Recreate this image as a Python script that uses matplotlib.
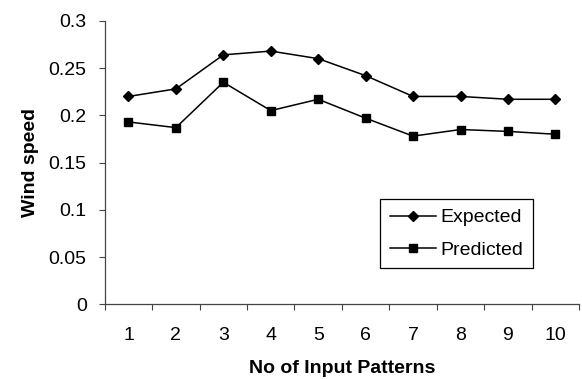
import numpy as np
import matplotlib.pyplot as plt

plt.rcParams['font.family'] = ['Liberation Sans', 'DejaVu Sans']

patterns = [1, 2, 3, 4, 5, 6, 7, 8, 9, 10]
expected = [0.220, 0.228, 0.264, 0.268, 0.260, 0.242, 0.220, 0.220, 0.217, 0.217]
predicted = [0.193, 0.187, 0.235, 0.205, 0.217, 0.197, 0.178, 0.185, 0.183, 0.180]
y_ticks = [0, 0.05, 0.1, 0.15, 0.2, 0.25, 0.3]
y_tick_labels = ['0', '0.05', '0.1', '0.15', '0.2', '0.25', '0.3']

fs = 14

fig = plt.figure(figsize=(5.82, 3.79), dpi=100)
ax = fig.add_axes([0.18, 0.197, 0.815, 0.748])

ax.plot(patterns, expected, 'k-', marker='D', markersize=5.5, lw=1.1, label='Expected')
ax.plot(patterns, predicted, 'k-', marker='s', markersize=5.5, lw=1.1, label='Predicted')

ax.set_xlim(0.5, len(patterns) + 0.5)
ax.set_ylim(0, 0.3)
ax.set_yticks(y_ticks)
ax.set_yticklabels(y_tick_labels)

# category labels sit between the tick marks
ax.set_xticks(np.arange(0.5, len(patterns) + 1, 1))
ax.set_xticklabels([])
ax.set_xticks(patterns, minor=True)
ax.set_xticklabels([str(p) for p in patterns], minor=True)
ax.tick_params(axis='x', which='minor', length=0, pad=16, labelsize=fs)
ax.tick_params(axis='x', which='major', direction='out', length=4, width=0.8, color='#444444')
ax.tick_params(axis='y', direction='out', length=4, width=0.8, color='#444444', labelsize=fs, pad=9)

for side in ['top', 'right']:
    ax.spines[side].set_visible(False)
for side in ['left', 'bottom']:
    ax.spines[side].set_color('#444444')
    ax.spines[side].set_linewidth(0.9)

ax.set_xlabel('No of Input Patterns', fontweight='bold', fontsize=fs, labelpad=12)
ax.set_ylabel('Wind speed', fontweight='bold', fontsize=fs, labelpad=7)

leg = ax.legend(loc='upper left', bbox_to_anchor=(0.58, 0.371), fancybox=False,
                edgecolor='black', fontsize=fs, handlelength=2.4, borderpad=0.5,
                labelspacing=0.75, handletextpad=0.2, borderaxespad=0, framealpha=1)
leg.get_frame().set_linewidth(0.9)

fig.savefig('out.png', dpi=100)
